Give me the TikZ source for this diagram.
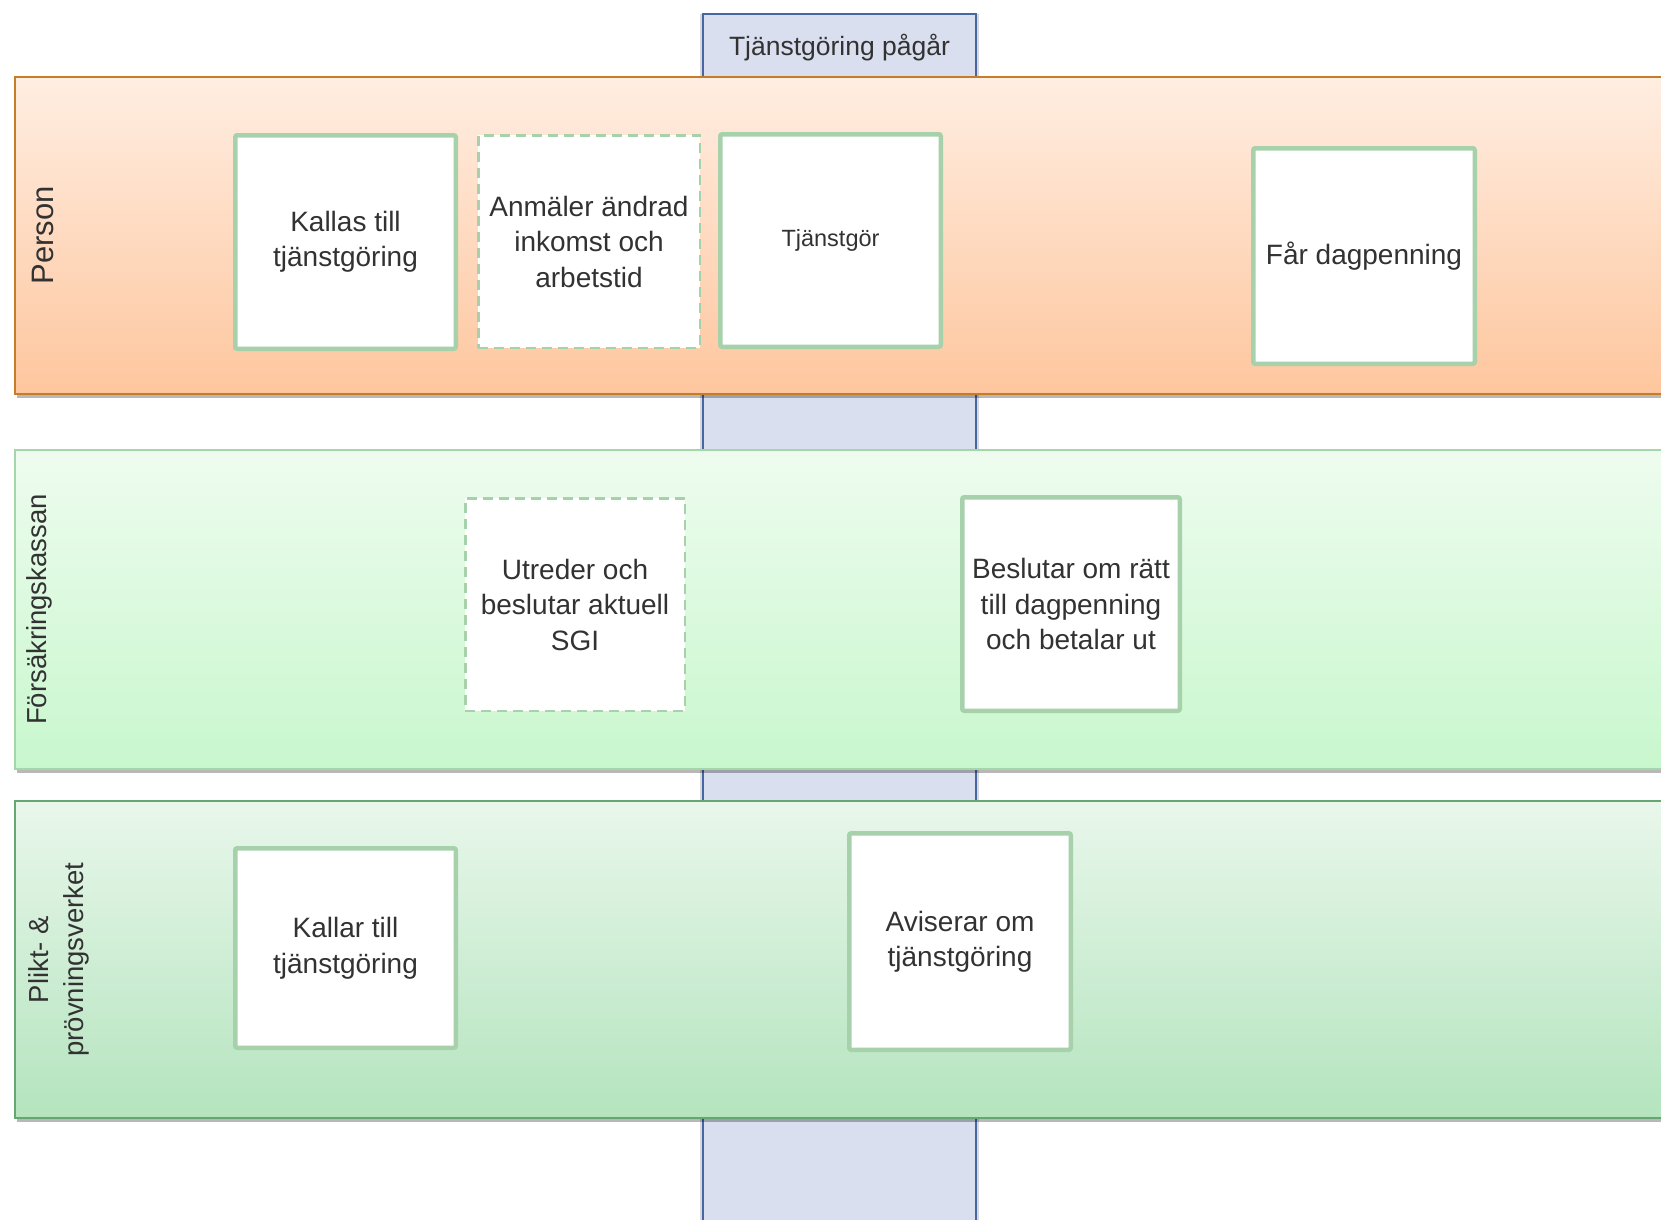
\documentclass[tikz,border=0pt]{standalone}
\usepackage{fontspec}
\setmainfont{Liberation Sans}
\begin{document}
\definecolor{txt}{RGB}{50,50,50}
\definecolor{boxgreen}{RGB}{166,209,170}
\definecolor{colfill}{RGB}{217,223,238}
\definecolor{colborder}{RGB}{72,102,165}
\definecolor{pTop}{RGB}{255,238,226}
\definecolor{pBot}{RGB}{254,198,158}
\definecolor{pBorder}{RGB}{198,124,40}
\definecolor{fTop}{RGB}{238,252,239}
\definecolor{fBot}{RGB}{200,247,205}
\definecolor{fBorder}{RGB}{165,214,170}
\definecolor{kTop}{RGB}{233,247,235}
\definecolor{kBot}{RGB}{180,228,190}
\definecolor{kBorder}{RGB}{102,166,112}
\begin{tikzpicture}[x=1pt,y=-1pt,
  actbox/.style={draw=boxgreen, line width=4.5pt, fill=white, rounded corners=2pt,
    text=txt, align=center, inner sep=0pt, font=\fontsize{28}{35.5}\selectfont},
  optbox/.style={actbox, line width=2.5pt, dash pattern=on 10pt off 6pt, rounded corners=0pt},
  lanelabel/.style={rotate=90, text=txt, align=center, inner sep=0pt, font=\fontsize{27.5}{35}\selectfont},
  shadowbox/.style={fill=black, opacity=0.28, draw=none}]
\clip (0,0) rectangle (1661,1219);
\fill[white] (0,0) rectangle (1661,1219);
% timeline column
\fill[black, opacity=0.15] (700,14) rectangle (979,1240);
\path[fill=colfill, draw=colborder, line width=2pt] (703,14) rectangle (976,1240);
\node[text=txt, font=\fontsize{26.5}{30}\selectfont, inner sep=0pt] (col) at (839.5,48) {Tjänstgöring pågår};
% lanes
\fill[shadowbox] (17,81) rectangle (1680,398);
\path[top color=pTop, bottom color=pBot, draw=pBorder, line width=2pt] (15,77) rectangle (1680,394);
\fill[shadowbox] (17,454) rectangle (1680,773);
\path[top color=fTop, bottom color=fBot, draw=fBorder, line width=2pt] (15,450) rectangle (1680,769);
\fill[shadowbox] (17,805) rectangle (1680,1122);
\path[top color=kTop, bottom color=kBot, draw=kBorder, line width=2pt] (15,801) rectangle (1680,1118);
% lane labels
\node[lanelabel, font=\fontsize{31}{36}\selectfont] (lp) at (43,235.5) {Person};
\node[lanelabel] (lf) at (39,609.5) {Försäkringskassan};
\node[lanelabel] (lk) at (59,959.5) {Plikt- \&\\prövningsverket};
% Person lane boxes
\node[actbox, minimum width=220.5pt, minimum height=213.5pt] (k1) at (345.5,242) {Kallas till\\tjänstgöring};
\node[optbox, minimum width=221.5pt, minimum height=212.5pt] (a1) at (589,241.5) {Anmäler ändrad\\inkomst och\\arbetstid};
\node[actbox, minimum width=220.5pt, minimum height=212.5pt, font=\fontsize{23.5}{28}\selectfont] (t1) at (830.5,240.5) {Tjänstgör};
\node[actbox, minimum width=221.5pt, minimum height=215.5pt] (f1) at (1364,256) {Får dagpenning};
% Försäkringskassan lane boxes
\node[optbox, minimum width=219.5pt, minimum height=212.5pt] (u1) at (575,604.5) {Utreder och\\beslutar aktuell\\SGI};
\node[actbox, minimum width=217.5pt, minimum height=213.5pt] (b1) at (1071,604) {Beslutar om rätt\\till dagpenning\\och betalar ut};
% Plikt lane boxes
\node[actbox, minimum width=220.5pt, minimum height=199.5pt] (k2) at (345.5,948) {Kallar till\\tjänstgöring};
\node[actbox, minimum width=221.5pt, minimum height=216.5pt] (v2) at (960,941.5) {Aviserar om\\tjänstgöring};
\end{tikzpicture}
\end{document}
